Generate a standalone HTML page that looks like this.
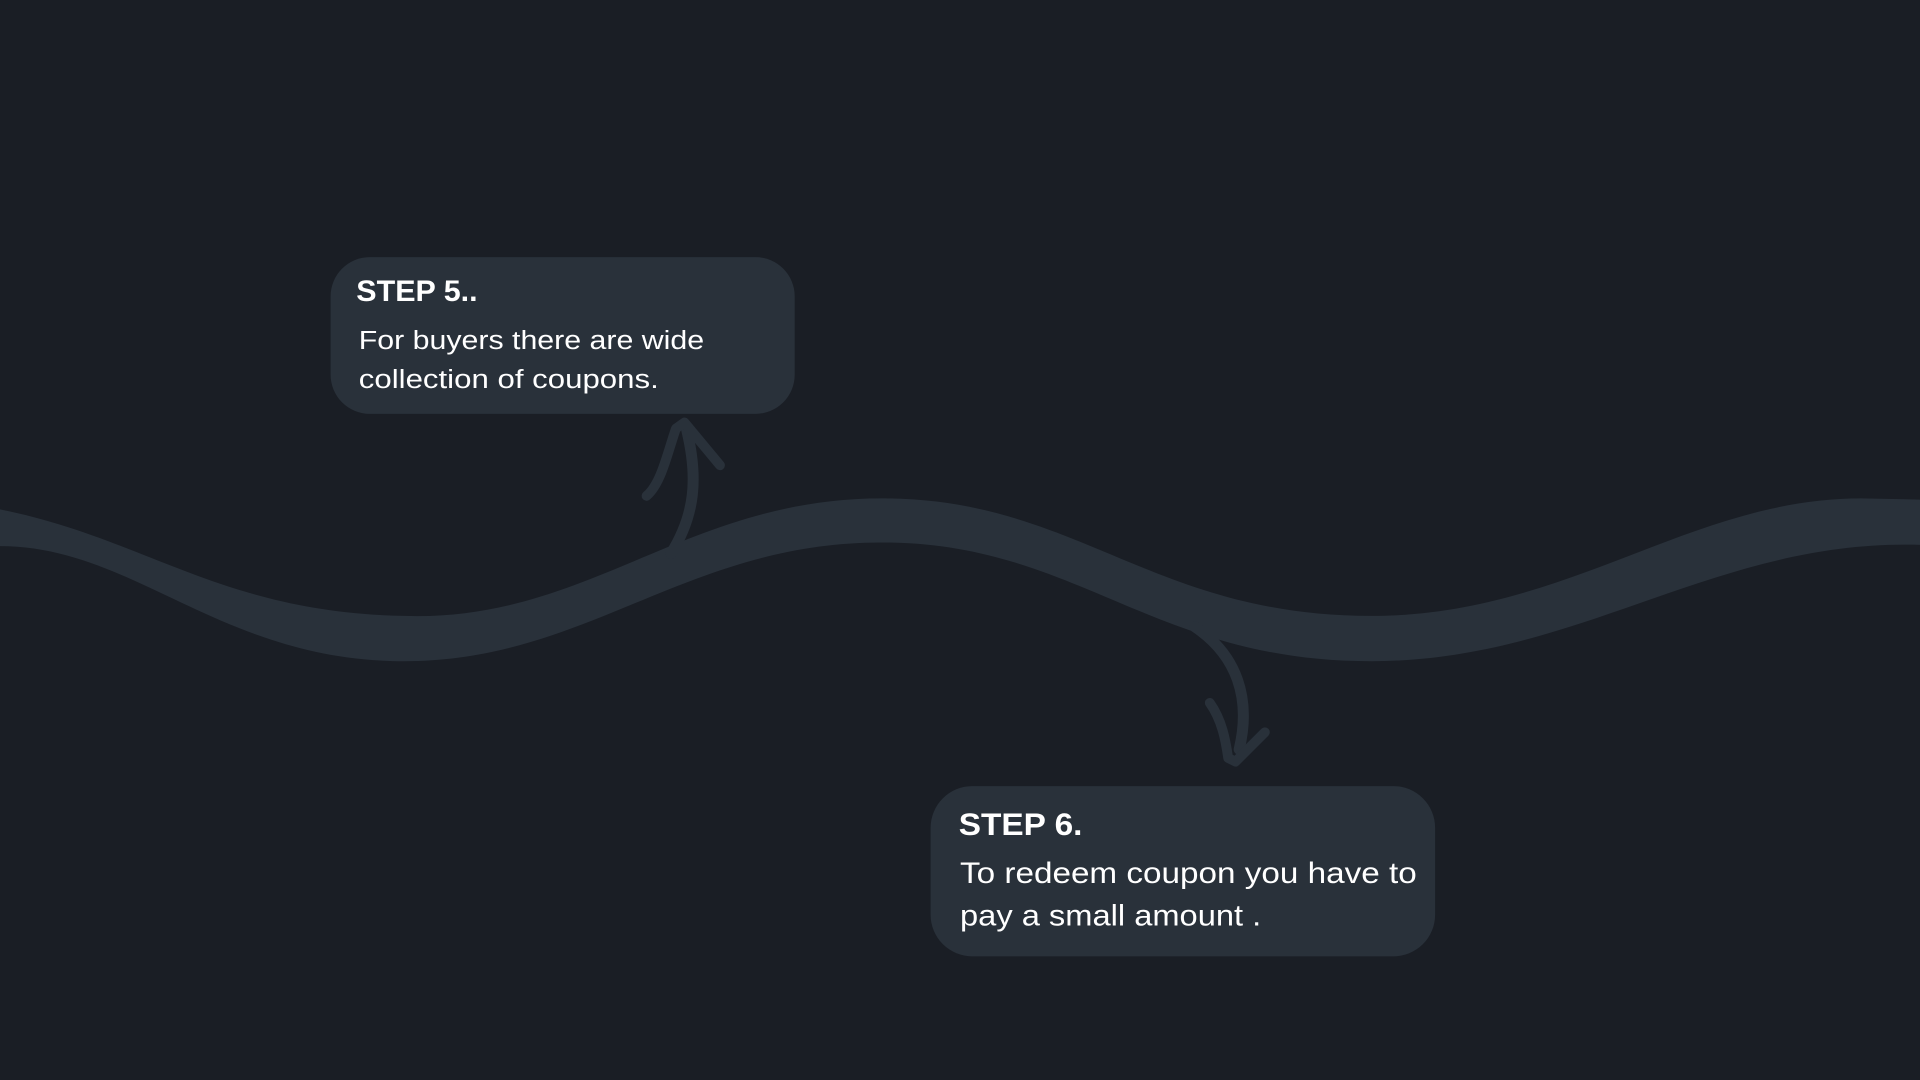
<!DOCTYPE html>
<html><head><meta charset="utf-8"><style>
html,body{margin:0;padding:0;background:#1a1e25;}
svg{display:block}
</style></head><body>
<svg width="1920" height="1080" viewBox="0 0 1568 882" preserveAspectRatio="none" xmlns="http://www.w3.org/2000/svg">
<rect width="1568" height="882" fill="#1a1e25"/>
<path fill="#29313a" d="M0,416 C120,440 180,500 330,503 C480,508 560,407 720,407 C880,407 940,503 1120,503 C1280,503 1380,407 1520,407 L1568,408 L1568,445 C1400,440 1290,540 1120,540 C940,540 880,443 720,443 C560,443 480,540 330,540 C180,540 110,446 0,446 Z"/>
<g fill="none" stroke="#29313a" stroke-linecap="round" stroke-linejoin="round">
<path d="M548,452 C568,420 570,390 561,352" stroke-width="9"/>
<path d="M528,405 C540,395 545,370 552,350 L559,345 L588,380" stroke-width="8"/>
<path d="M976,512 C1010,535 1022,570 1012,612" stroke-width="9"/>
<path d="M988,574 C998,588 1001,605 1003,619 L1009,622 L1033,598" stroke-width="8"/>
</g>
<rect x="270" y="210" width="379" height="128" rx="32" fill="#29313a"/>
<rect x="760" y="642" width="412" height="139" rx="34" fill="#29313a"/>
<g font-family="Liberation Sans, sans-serif" fill="#ffffff">
<text x="291" y="246" font-size="24" font-weight="bold" textLength="99" lengthAdjust="spacingAndGlyphs">STEP 5..</text>
<text x="293" y="285" font-size="21" textLength="282" lengthAdjust="spacingAndGlyphs">For buyers there are wide</text>
<text x="293" y="317" font-size="21" textLength="245" lengthAdjust="spacingAndGlyphs">collection of coupons.</text>
<text x="783" y="682" font-size="26" font-weight="bold" textLength="101" lengthAdjust="spacingAndGlyphs">STEP 6.</text>
<text x="784" y="721" font-size="24" textLength="373" lengthAdjust="spacingAndGlyphs">To redeem coupon you have to</text>
<text x="784" y="756" font-size="24" textLength="246" lengthAdjust="spacingAndGlyphs">pay a small amount .</text>
</g>
</svg>
</body></html>
